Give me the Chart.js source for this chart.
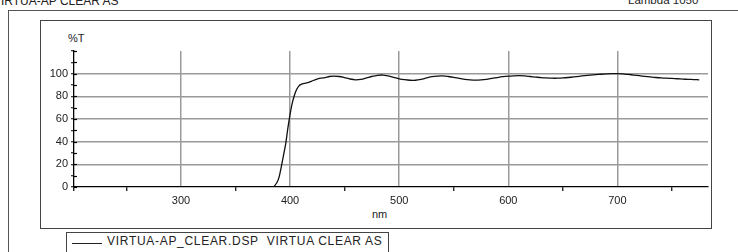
<!DOCTYPE html>
<html>
<head>
<meta charset="utf-8">
<script src="https://cdn.jsdelivr.net/npm/chart.js@4.4.1/dist/chart.umd.min.js"></script>
<style>
  html, body { margin:0; padding:0; background:#fff; }
  body { width:738px; height:252px; position:relative; overflow:hidden; font-family:"Liberation Sans", Arial, sans-serif; color:#222; }
  #wrap { position:absolute; left:0; top:0; width:738px; height:252px; }
  .abs { position:absolute; white-space:nowrap; }
  #outer { left:8px; top:10px; width:800px; height:300px; border-left:1px solid #555; border-top:1px solid #555; }
  #inner { left:40px; top:20px; width:670px; height:207px; border:1px solid #444; }
  #legend { left:66px; top:232px; width:321px; height:40px; border:1px solid #444; }
  #legline { left:72px; top:243px; width:30px; height:0; border-top:1px solid #222; }
  #legtext { left:107px; top:235px; font-size:12px; line-height:12px; letter-spacing:0.7px; }
  #title { left:-7px; top:-5px; font-size:12px; line-height:12px; }
  #inst { left:628px; top:-6px; font-size:11.5px; line-height:12px; }
  #ylab { left:68px; top:33px; font-size:11px; line-height:11px; }
  #xlab { left:372px; top:209px; font-size:11px; line-height:11px; }
</style>
</head>
<body>
<div class="abs" id="outer"></div>
<div class="abs" id="inner"></div>
<div class="abs" id="title">VIRTUA-AP CLEAR AS</div>
<div class="abs" id="inst">Lambda 1050</div>
<div class="abs" id="ylab">%T</div>
<div class="abs" id="xlab">nm</div>
<div class="abs" id="legend"></div>
<div class="abs" id="legline"></div>
<div class="abs" id="legtext">VIRTUA-AP_CLEAR.DSP&nbsp; VIRTUA CLEAR AS</div>
<div id="wrap"><canvas id="c" width="738" height="252"></canvas></div>
<script>
const wavelengths = [385,388,390,392,394,396,398,400,402,404,406,408,410,413,416,420,424,428,432,436,440,445,450,455,460,465,470,475,480,485,490,495,500,505,510,515,520,525,530,535,540,545,550,555,560,565,570,575,580,585,590,595,600,605,610,615,620,625,630,635,640,645,650,655,660,665,670,675,680,685,690,695,700,705,710,715,720,725,730,735,740,745,750,755,760,765,770,775];
const transmission = [0,4,9,18,28,38,52,64,74,81,86,89,90.5,91.5,92,93.5,95,96,96.5,97.5,97.8,97.5,96.5,95.3,94.6,95,96.2,97.5,98.5,98.8,98,96.8,95.5,94.7,94.2,94.2,95,96.2,97.3,97.9,98,97.5,96.8,95.8,95,94.5,94.3,94.5,95,95.8,96.6,97.3,97.8,98.1,98.2,98,97.5,97,96.5,96.2,96,96,96.2,96.6,97.1,97.7,98.3,98.8,99.2,99.5,99.8,100,100,99.8,99.3,98.8,98.2,97.6,97.1,96.6,96.3,96,95.8,95.5,95.2,95,94.8,94.6];
const xTicks = [202,250,300,350,400,450,500,550,600,650,700,750];
const xLabels = [300,400,500,600,700];
const yTicks = [0,10,20,30,40,50,60,70,80,90,100,110,120];
const yLabels = [0,20,40,60,80,100];
const seriesName = "VIRTUA-AP_CLEAR.DSP  VIRTUA CLEAR AS";

const GRID = '#9a9a9a';
const FONT = { family: '"Liberation Sans", Arial, sans-serif', size: 11 };

const innerTicks = {
  id: 'innerTicks',
  afterDraw(chart) {
    const y = chart.scales.y, ctx = chart.ctx, x0 = chart.chartArea.left;
    ctx.save();
    ctx.strokeStyle = '#000';
    ctx.lineWidth = 1.2;
    yTicks.forEach(v => {
      const py = Math.round(y.getPixelForValue(v)) + 0.5;
      ctx.beginPath();
      ctx.moveTo(x0, py);
      ctx.lineTo(x0 + 3, py);
      ctx.stroke();
    });
    ctx.restore();
  }
};

new Chart(document.getElementById('c'), {
  type: 'line',
  data: {
    datasets: [{
      label: seriesName,
      data: wavelengths.map((w, i) => ({ x: w, y: transmission[i] })),
      borderColor: '#111',
      borderWidth: 1.3,
      pointRadius: 0,
      tension: 0.3,
      fill: false
    }]
  },
  options: {
    responsive: false,
    animation: false,
    devicePixelRatio: 1,
    layout: { padding: { left: 0, top: 51, right: 30, bottom: 35 } },
    plugins: { legend: { display: false }, tooltip: { enabled: false }, title: { display: false } },
    scales: {
      x: {
        type: 'linear',
        min: 202, max: 783,
        afterBuildTicks: s => { s.ticks = xTicks.map(v => ({ value: v })); },
        afterFit: s => { s.height = 30; },
        ticks: {
          autoSkip: false, maxRotation: 0, padding: 3, color: '#222', font: FONT,
          callback: v => xLabels.includes(v) ? String(v) : ''
        },
        grid: {
          color: c => (c.tick && xLabels.includes(c.tick.value)) ? GRID : 'rgba(0,0,0,0)',
          lineWidth: 1.5,
          drawTicks: true,
          tickLength: 4,
          tickColor: c => (c.tick && xLabels.includes(c.tick.value)) ? 'rgba(0,0,0,0)' : '#000',
          tickWidth: 1.2
        },
        border: { display: true, color: '#000', width: 1.3 }
      },
      y: {
        type: 'linear',
        min: 0, max: 120,
        afterBuildTicks: s => { s.ticks = yTicks.map(v => ({ value: v })); },
        afterFit: s => { s.width = 74; },
        ticks: {
          autoSkip: false, padding: 3, color: '#222', font: FONT,
          callback: v => yLabels.includes(v) ? String(v) : ''
        },
        grid: {
          color: c => (c.tick && yLabels.includes(c.tick.value) && c.tick.value > 0) ? GRID : 'rgba(0,0,0,0)',
          lineWidth: 1.5,
          drawTicks: true,
          tickLength: 3,
          tickColor: '#000',
          tickWidth: 1.2
        },
        border: { display: true, color: '#000', width: 1.3 }
      }
    }
  },
  plugins: [innerTicks]
});
</script>
</body>
</html>
